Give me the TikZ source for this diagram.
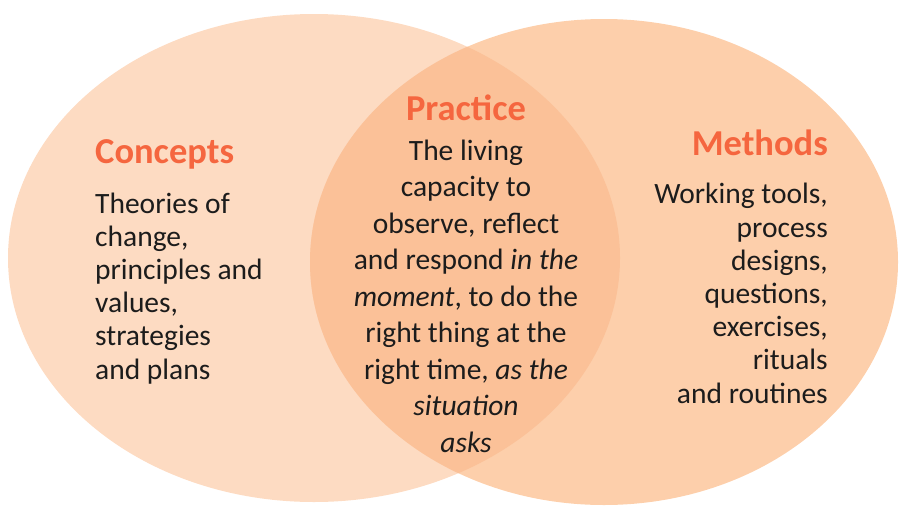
\documentclass[tikz,border=0pt]{standalone}
\usepackage{fontspec}
\setmainfont{Carlito}

\definecolor{leftpeach}{HTML}{FDDBC2}
\definecolor{rightpeach}{HTML}{FDCFAB}
\definecolor{lenspeach}{HTML}{FBC198}
\definecolor{headorange}{HTML}{F5663F}
\definecolor{bodyink}{HTML}{1C1C1C}

\newcommand{\leftset}{(314,258) ellipse [x radius=306, y radius=244]}
\newcommand{\rightset}{(604,262) ellipse [x radius=294, y radius=243]}

\begin{document}
\begin{tikzpicture}[x=1pt,y=-1pt,
  heading/.style={font=\fontsize{36.5}{40}\selectfont\bfseries, text=headorange, inner sep=0pt},
  body/.style={font=\fontsize{29.5}{33.2}\selectfont, text=bodyink, inner sep=0pt},
  lensbody/.style={body, font=\fontsize{29.5}{36.5}\selectfont}]
\useasboundingbox (0,0) rectangle (899,506);

% the two sets and their overlap
\fill[leftpeach] \leftset;
\fill[rightpeach] \rightset;
\begin{scope}
  \clip \leftset;
  \fill[lenspeach] \rightset;
\end{scope}

% left set (multi-line nodes sit on their last baseline)
\node[heading, anchor=base west] (concepts) at (95,163) {Concepts};
\node[body, anchor=base west, align=left] (conceptstext) at (95,379)
  {Theories of\\change,\\principles and\\values,\\strategies\\and plans};

% overlap
\node[heading, anchor=base] (practice) at (466,120) {Practice};
\node[lensbody, anchor=base, align=center] (practicetext) at (466,452)
  {The living\\capacity to\\observe, reflect\\and respond \textit{in the}\\
   \textit{moment}, to do the\\right thing at the\\right time, \textit{as the}\\
   \textit{situation}\\\textit{asks}};

% right set
\node[heading, anchor=base east] (methods) at (828,155) {Methods};
\node[body, anchor=base east, align=right] (methodstext) at (828,403)
  {Working tools,\\process\\designs,\\questions,\\exercises,\\rituals\\and routines};
\end{tikzpicture}
\end{document}
